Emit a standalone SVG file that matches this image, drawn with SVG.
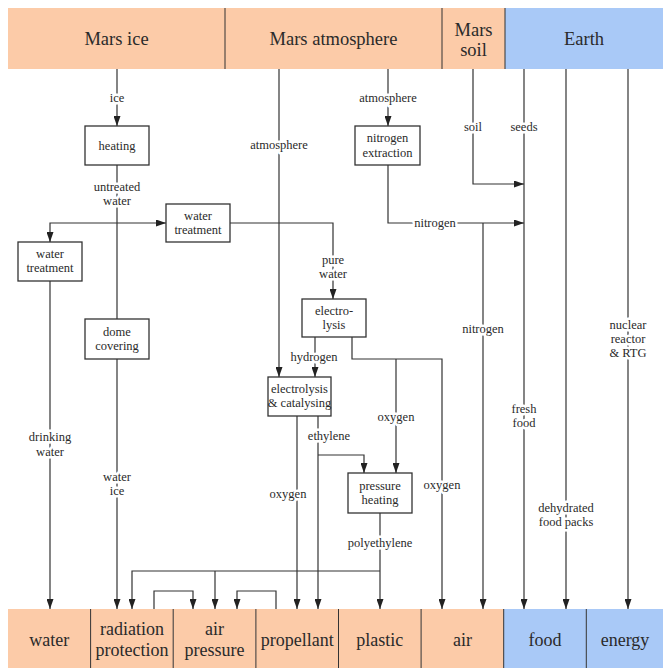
<svg xmlns="http://www.w3.org/2000/svg" width="663" height="668" viewBox="0 0 663 668" font-family="'Liberation Serif', 'DejaVu Serif', serif">
<defs>
<marker id="arr" markerUnits="userSpaceOnUse" markerWidth="10" markerHeight="7" refX="10" refY="3.5" orient="auto">
<path d="M0,0 L10,3.5 L0,7 z" fill="#222"/>
</marker>
<style>
text{font-family:'Liberation Serif','DejaVu Serif',serif}
.band{font-size:18.5px;fill:#2a2a2a;text-anchor:middle}
.bt{font-size:18px;fill:#2a2a2a;text-anchor:middle}
.or{fill:#fccba8}
.bl{fill:#a9c9f7}
.div{stroke:#333;stroke-width:1}
.box{fill:#fff;stroke:#333;stroke-width:1.3}
.bx{font-size:12.5px;fill:#2a2a2a;text-anchor:middle}
.c{fill:none;stroke:#333;stroke-width:1.2}
.a{marker-end:url(#arr)}
.lb{font-size:12.5px;fill:#2a2a2a;text-anchor:middle;stroke:#fff;stroke-width:5px;paint-order:stroke;stroke-linejoin:round}
</style>
</defs>

<!-- top sources -->
<g id="src-mars-ice"><rect class="or" x="8" y="8" width="217" height="61"/><text class="band" x="116.5" y="45">Mars ice</text></g>
<g id="src-mars-atmosphere"><rect class="or" x="225" y="8" width="217" height="61"/><text class="band" x="333.5" y="45">Mars atmosphere</text></g>
<g id="src-mars-soil"><rect class="or" x="442" y="8" width="63" height="61"/><text class="band" x="473.5" y="36">Mars</text><text class="band" x="473.5" y="56">soil</text></g>
<g id="src-earth"><rect class="bl" x="505" y="8" width="158" height="61"/><text class="band" x="584" y="45">Earth</text></g>
<g id="top-dividers"><line class="div" x1="225" y1="8" x2="225" y2="69"/><line class="div" x1="442" y1="8" x2="442" y2="69"/><line class="div" x1="505" y1="8" x2="505" y2="69"/></g>

<!-- bottom uses -->
<g id="use-water"><rect class="or" x="8" y="609" width="82.6" height="59"/><text class="bt" x="49.3" y="646">water</text></g>
<g id="use-radiation"><rect class="or" x="90.6" y="609" width="82.6" height="59"/><text class="bt" x="131.9" y="635">radiation</text><text class="bt" x="131.9" y="656">protection</text></g>
<g id="use-air-pressure"><rect class="or" x="173.2" y="609" width="82.7" height="59"/><text class="bt" x="214.6" y="635">air</text><text class="bt" x="214.6" y="656">pressure</text></g>
<g id="use-propellant"><rect class="or" x="255.9" y="609" width="82.6" height="59"/><text class="bt" x="297.2" y="646">propellant</text></g>
<g id="use-plastic"><rect class="or" x="338.5" y="609" width="82.6" height="59"/><text class="bt" x="379.8" y="646">plastic</text></g>
<g id="use-air"><rect class="or" x="421.1" y="609" width="82.6" height="59"/><text class="bt" x="462.4" y="646">air</text></g>
<g id="use-food"><rect class="bl" x="503.7" y="609" width="82.6" height="59"/><text class="bt" x="545" y="646">food</text></g>
<g id="use-energy"><rect class="bl" x="586.3" y="609" width="76.7" height="59"/><text class="bt" x="625" y="646">energy</text></g>
<g id="bottom-dividers">
<line class="div" x1="90.6" y1="609" x2="90.6" y2="668"/><line class="div" x1="173.2" y1="609" x2="173.2" y2="668"/><line class="div" x1="255.9" y1="609" x2="255.9" y2="668"/><line class="div" x1="338.5" y1="609" x2="338.5" y2="668"/><line class="div" x1="421.1" y1="609" x2="421.1" y2="668"/><line class="div" x1="503.7" y1="609" x2="503.7" y2="668"/><line class="div" x1="586.3" y1="609" x2="586.3" y2="668"/>
</g>

<!-- connectors -->
<g id="connectors">
<path class="c a" d="M117,69 V126"/>
<path class="c" d="M117,165 V319"/>
<path class="c a" d="M117,223 H166"/>
<path class="c a" d="M117,223 H50 V242"/>
<path class="c a" d="M230,223 H333 V299"/>
<path class="c a" d="M50,281 V609"/>
<path class="c a" d="M117,359 V609"/>
<path class="c a" d="M279,69 V377"/>
<path class="c a" d="M388,69 V126"/>
<path class="c a" d="M388,165 V223 H524"/>
<path class="c a" d="M483,223 V609"/>
<path class="c a" d="M473,69 V184 H524"/>
<path class="c a" d="M524,69 V609"/>
<path class="c a" d="M566,69 V609"/>
<path class="c a" d="M628,69 V609"/>
<path class="c a" d="M315,337 V377"/>
<path class="c a" d="M352,337 V359 H442 V609"/>
<path class="c a" d="M396,359 V473"/>
<path class="c a" d="M297,416 V609"/>
<path class="c a" d="M318,416 V609"/>
<path class="c a" d="M318,455 H364 V473"/>
<path class="c a" d="M380,513 V609"/>
<path class="c a" d="M380,571 H132 V609"/>
<path class="c a" d="M215,571 V609"/>
<path class="c a" d="M154,609 V591 H193 V609"/>
<path class="c a" d="M276,609 V591 H237 V609"/>

<text class="lb" x="117" y="102">ice</text>
<text class="lb" x="117" y="191">untreated</text>
<text class="lb" x="117" y="205">water</text>
<text class="lb" x="333" y="264">pure</text>
<text class="lb" x="333" y="278">water</text>
<text class="lb" x="50" y="441">drinking</text>
<text class="lb" x="50" y="456">water</text>
<text class="lb" x="117" y="481">water</text>
<text class="lb" x="117" y="495">ice</text>
<text class="lb" x="279" y="149">atmosphere</text>
<text class="lb" x="388" y="102">atmosphere</text>
<text class="lb" x="435" y="227">nitrogen</text>
<text class="lb" x="483" y="333">nitrogen</text>
<text class="lb" x="473" y="131">soil</text>
<text class="lb" x="524" y="131">seeds</text>
<text class="lb" x="524" y="413">fresh</text>
<text class="lb" x="524" y="427">food</text>
<text class="lb" x="566" y="512">dehydrated</text>
<text class="lb" x="566" y="526">food packs</text>
<text class="lb" x="628" y="329">nuclear</text>
<text class="lb" x="628" y="343">reactor</text>
<text class="lb" x="628" y="357">&amp; RTG</text>
<text class="lb" x="314" y="361">hydrogen</text>
<text class="lb" x="442" y="489">oxygen</text>
<text class="lb" x="396" y="421">oxygen</text>
<text class="lb" x="288" y="498">oxygen</text>
<text class="lb" x="329" y="440">ethylene</text>
<text class="lb" x="380" y="547">polyethylene</text>
</g>

<!-- process nodes -->
<g id="heating"><rect class="box" x="85" y="126" width="64" height="39"/><text class="bx" x="117" y="149.5">heating</text></g>
<g id="water-treatment-1"><rect class="box" x="166" y="204" width="64" height="38"/><text class="bx" x="198" y="220">water</text><text class="bx" x="198" y="234">treatment</text></g>
<g id="water-treatment-2"><rect class="box" x="18" y="242" width="64" height="39"/><text class="bx" x="50" y="258">water</text><text class="bx" x="50" y="272">treatment</text></g>
<g id="dome-covering"><rect class="box" x="85" y="319" width="64" height="40"/><text class="bx" x="117" y="336">dome</text><text class="bx" x="117" y="350">covering</text></g>
<g id="nitrogen-extraction"><rect class="box" x="355" y="126" width="65" height="39"/><text class="bx" x="387.5" y="142">nitrogen</text><text class="bx" x="387.5" y="157">extraction</text></g>
<g id="electrolysis"><rect class="box" x="302" y="299" width="64" height="38"/><text class="bx" x="334" y="315">electro-</text><text class="bx" x="334" y="329">lysis</text></g>
<g id="electrolysis-catalysing"><rect class="box" x="268" y="377" width="63" height="39"/><text class="bx" x="299.5" y="393">electrolysis</text><text class="bx" x="299.5" y="407">&amp; catalysing</text></g>
<g id="pressure-heating"><rect class="box" x="348" y="473" width="64" height="40"/><text class="bx" x="380" y="490">pressure</text><text class="bx" x="380" y="504">heating</text></g>
</svg>
